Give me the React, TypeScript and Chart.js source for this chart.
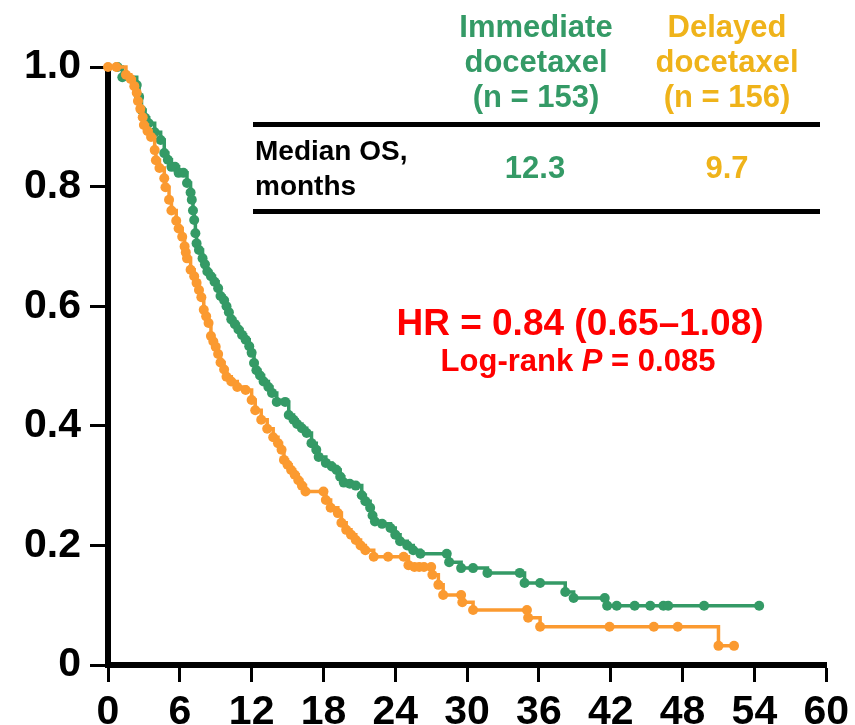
import React, { useEffect, useRef } from 'react';
import { Chart, registerables } from 'chart.js';

Chart.register(...registerables);

const FONT = '"Liberation Sans", Arial, Helvetica, sans-serif';
const GREEN = '#349a66';
const ORANGE = '#fb9a30';
const GOLD = '#efb31a';
const RED = '#ff0000';

// x axis: months
const xTickValues = [0, 6, 12, 18, 24, 30, 36, 42, 48, 54, 60];
const xTickLabels = ['0', '6', '12', '18', '24', '30', '36', '42', '48', '54', '60'];
// y axis: survival probability
const yTickValues = [0, 0.2, 0.4, 0.6, 0.8, 1.0];
const yTickLabels = ['0', '0.2', '0.4', '0.6', '0.8', '1.0'];

// Immediate docetaxel (n = 153): KM step points; mark = 1 where a censor dot is drawn
const immTime = [
  0, 0.8, 1.2, 2.4, 2.6, 2.8, 3.1, 3.4, 3.9, 4.4, 4.7, 5.0, 5.3, 5.6, 5.9, 6.3, 6.6, 6.9, 7.0, 7.1,
  7.2, 7.3, 7.4, 7.6, 7.9, 8.1, 8.3, 8.6, 8.9, 9.2, 9.4, 9.7, 9.9, 10.1, 10.3, 10.6, 10.9, 11.2, 11.5, 11.8,
  12.0, 12.2, 12.4, 12.7, 13.0, 13.4, 13.7, 14.1, 14.8, 15.1, 15.5, 15.8, 16.2, 16.6, 17.0, 17.4, 17.6, 18.2, 18.7, 19.1,
  19.4, 19.7, 20.2, 20.7, 21.2, 21.5, 21.9, 22.1, 22.3, 22.9, 23.6, 24.0, 24.4, 25.0, 25.5, 26.1, 28.3, 28.5, 29.4, 29.5,
  30.5, 31.7, 34.4, 34.8, 36.1, 38.2, 38.9, 41.5, 41.7, 42.5, 44.0, 45.3, 46.4, 46.8, 49.8, 54.4,
];
const immSurv = [
  1.0, 1.0, 0.983, 0.97, 0.95, 0.928, 0.915, 0.906, 0.891, 0.878, 0.856, 0.845, 0.833, 0.833, 0.823, 0.823, 0.806, 0.79, 0.778, 0.76,
  0.744, 0.722, 0.705, 0.694, 0.68, 0.67, 0.658, 0.65, 0.641, 0.63, 0.617, 0.61, 0.6, 0.59, 0.578, 0.57, 0.561, 0.552, 0.544, 0.533,
  0.522, 0.505, 0.493, 0.484, 0.474, 0.465, 0.455, 0.44, 0.44, 0.418, 0.41, 0.403, 0.396, 0.388, 0.371, 0.36, 0.348, 0.338, 0.332, 0.326,
  0.315, 0.305, 0.303, 0.3, 0.284, 0.274, 0.263, 0.25, 0.24, 0.236, 0.229, 0.218, 0.207, 0.2, 0.192, 0.186, 0.186, 0.172, 0.172, 0.162,
  0.162, 0.154, 0.154, 0.137, 0.137, 0.122, 0.112, 0.112, 0.099, 0.099, 0.099, 0.099, 0.099, 0.099, 0.099, 0.099,
];
const immMark = [
  0, 1, 1, 1, 1, 1, 1, 1, 1, 1, 1, 1, 1, 1, 1, 1, 1, 1, 1, 1,
  1, 1, 1, 1, 1, 1, 1, 1, 1, 1, 1, 1, 1, 1, 1, 1, 1, 1, 1, 1,
  1, 1, 1, 1, 1, 1, 1, 1, 1, 1, 1, 1, 1, 1, 1, 1, 1, 1, 1, 1,
  1, 1, 1, 1, 1, 1, 1, 1, 1, 1, 1, 1, 1, 1, 1, 1, 1, 1, 0, 1,
  1, 1, 1, 1, 1, 1, 1, 1, 1, 1, 1, 1, 1, 1, 1, 1,
];

// Delayed docetaxel (n = 156)
const delTime = [
  0, 0.7, 1.4, 1.5, 1.9, 2.2, 2.4, 2.5, 2.7, 2.9, 3.0, 3.3, 3.6, 3.9, 4.0, 4.3, 4.7, 4.8, 5.1, 5.3,
  5.7, 5.9, 6.2, 6.4, 6.5, 6.6, 6.9, 7.2, 7.4, 7.6, 7.8, 8.0, 8.2, 8.4, 8.6, 8.8, 9.0, 9.2, 9.4, 9.7,
  9.9, 10.3, 10.8, 11.5, 12.0, 12.3, 12.8, 13.3, 13.8, 14.2, 14.5, 14.7, 15.0, 15.3, 15.6, 15.9, 16.2, 16.5, 18.0, 18.2,
  18.6, 19.2, 19.5, 19.9, 20.3, 20.7, 21.1, 21.5, 22.2, 23.4, 24.7, 25.1, 25.6, 26.0, 26.4, 27.0, 27.1, 27.6, 28.0, 29.5,
  29.6, 30.5, 35.0, 35.1, 36.1, 41.9, 45.6, 47.6, 51.0, 52.3,
];
const delSurv = [
  1.0, 1.0, 1.0, 0.987, 0.98, 0.968, 0.957, 0.943, 0.93, 0.916, 0.903, 0.893, 0.883, 0.861, 0.844, 0.831, 0.814, 0.799, 0.778, 0.76,
  0.743, 0.73, 0.716, 0.7, 0.69, 0.68, 0.661, 0.65, 0.639, 0.627, 0.615, 0.594, 0.583, 0.572, 0.55, 0.541, 0.532, 0.52, 0.506, 0.494,
  0.482, 0.474, 0.465, 0.46, 0.443, 0.426, 0.41, 0.395, 0.381, 0.371, 0.36, 0.343, 0.335, 0.326, 0.318, 0.309, 0.3, 0.29, 0.29, 0.276,
  0.263, 0.254, 0.238, 0.226, 0.218, 0.209, 0.2, 0.192, 0.181, 0.181, 0.181, 0.167, 0.164, 0.164, 0.164, 0.164, 0.151, 0.134, 0.117, 0.117,
  0.105, 0.092, 0.092, 0.079, 0.064, 0.064, 0.064, 0.064, 0.032, 0.032,
];
const delMark = [
  1, 1, 0, 1, 1, 1, 1, 1, 1, 1, 1, 1, 1, 1, 1, 1, 1, 1, 1, 1,
  1, 1, 1, 1, 1, 1, 1, 1, 1, 1, 1, 1, 1, 1, 1, 1, 1, 1, 1, 1,
  1, 1, 1, 1, 1, 1, 1, 1, 1, 1, 1, 1, 1, 1, 1, 1, 1, 1, 1, 1,
  1, 1, 1, 1, 1, 1, 1, 1, 1, 1, 1, 1, 1, 1, 1, 1, 1, 1, 1, 1,
  1, 1, 1, 1, 1, 1, 1, 1, 1, 1,
];

const groupNames = ['Immediate docetaxel', 'Delayed docetaxel'];
const groupN = [153, 156];
const medianOS = ['12.3', '9.7'];
const hrText = 'HR = 0.84 (0.65–1.08)';
const pValue = '0.085';

function series(t: number[], s: number[]) {
  return t.map((x, i) => ({ x, y: s[i] }));
}

export default function App() {
  const ref = useRef<HTMLCanvasElement | null>(null);

  useEffect(() => {
    if (!ref.current) return;
    const tickFont = { family: FONT, size: 41, weight: 'bold' as const };
    const chart = new Chart(ref.current, {
      type: 'line',
      data: {
        datasets: [
          {
            label: groupNames[1],
            data: series(delTime, delSurv),
            stepped: true,
            borderColor: ORANGE,
            backgroundColor: ORANGE,
            pointBackgroundColor: ORANGE,
            borderWidth: 3.5,
            pointRadius: delMark.map((m) => (m ? 5 : 0)),
            pointBorderWidth: 0,
            pointHoverRadius: 0,
            fill: false,
            clip: false,
          },
          {
            label: groupNames[0],
            data: series(immTime, immSurv),
            stepped: true,
            borderColor: GREEN,
            backgroundColor: GREEN,
            pointBackgroundColor: GREEN,
            borderWidth: 3.5,
            pointRadius: immMark.map((m) => (m ? 5 : 0)),
            pointBorderWidth: 0,
            pointHoverRadius: 0,
            fill: false,
            clip: false,
          },
        ],
      },
      options: {
        animation: false,
        responsive: false,
        maintainAspectRatio: false,
        events: [],
        layout: { padding: { left: 0, right: 25, top: 67, bottom: 0 } },
        plugins: { legend: { display: false }, tooltip: { enabled: false } },
        scales: {
          x: {
            type: 'linear',
            min: 0,
            max: 60,
            afterBuildTicks: (s: any) => {
              s.ticks = xTickValues.map((v) => ({ value: v }));
            },
            afterFit: (s: any) => {
              s.height = 60;
            },
            ticks: {
              font: tickFont,
              color: '#000',
              padding: 6,
              maxRotation: 0,
              autoSkip: false,
              callback: (_v: any, i: number) => xTickLabels[i],
            },
            grid: {
              drawOnChartArea: false,
              drawTicks: true,
              tickLength: 17,
              tickWidth: 3,
              tickColor: '#000',
            },
            border: { display: true, color: '#000', width: 6 },
          },
          y: {
            type: 'linear',
            min: 0,
            max: 1,
            afterBuildTicks: (s: any) => {
              s.ticks = yTickValues.map((v) => ({ value: v }));
            },
            afterFit: (s: any) => {
              s.width = 108;
            },
            ticks: {
              font: tickFont,
              color: '#000',
              padding: 9,
              autoSkip: false,
              callback: (_v: any, i: number) => yTickLabels[i],
            },
            grid: {
              drawOnChartArea: false,
              drawTicks: true,
              tickLength: 18,
              tickWidth: 3,
              tickColor: '#000',
            },
            border: { display: true, color: '#000', width: 6 },
          },
        },
      },
    });
    return () => chart.destroy();
  }, []);

  const base: React.CSSProperties = {
    position: 'absolute',
    fontFamily: FONT,
    fontWeight: 'bold',
    whiteSpace: 'nowrap',
  };

  return (
    <div style={{ position: 'fixed', left: 0, top: 0, width: 855, height: 725, background: '#fff' }}>
      <canvas ref={ref} width={855} height={725} style={{ display: 'block', width: 855, height: 725 }} />
      <div style={{ ...base, left: 436, top: 9, width: 200, textAlign: 'center', fontSize: 31, lineHeight: '35px', color: GREEN }}>
        {groupNames[0].split(' ')[0]}
        <br />
        {groupNames[0].split(' ')[1]}
        <br />
        (n = {groupN[0]})
      </div>
      <div style={{ ...base, left: 627, top: 9, width: 200, textAlign: 'center', fontSize: 31, lineHeight: '35px', color: GOLD }}>
        {groupNames[1].split(' ')[0]}
        <br />
        {groupNames[1].split(' ')[1]}
        <br />
        (n = {groupN[1]})
      </div>
      <div style={{ position: 'absolute', left: 253, top: 122, width: 567, height: 5, background: '#000' }} />
      <div style={{ ...base, left: 255, top: 133, fontSize: 28, lineHeight: '35px', color: '#000' }}>
        Median OS,
        <br />
        months
      </div>
      <div style={{ ...base, left: 435, top: 150, width: 200, textAlign: 'center', fontSize: 31, lineHeight: '36px', color: GREEN }}>
        {medianOS[0]}
      </div>
      <div style={{ ...base, left: 627, top: 150, width: 200, textAlign: 'center', fontSize: 31, lineHeight: '36px', color: GOLD }}>
        {medianOS[1]}
      </div>
      <div style={{ position: 'absolute', left: 253, top: 209, width: 567, height: 5, background: '#000' }} />
      <div style={{ ...base, left: 330, top: 301, width: 500, textAlign: 'center', fontSize: 37, lineHeight: '44px', color: RED }}>
        {hrText}
      </div>
      <div style={{ ...base, left: 328, top: 342, width: 500, textAlign: 'center', fontSize: 31, lineHeight: '37px', color: RED }}>
        Log-rank <i>P</i> = {pValue}
      </div>
    </div>
  );
}
